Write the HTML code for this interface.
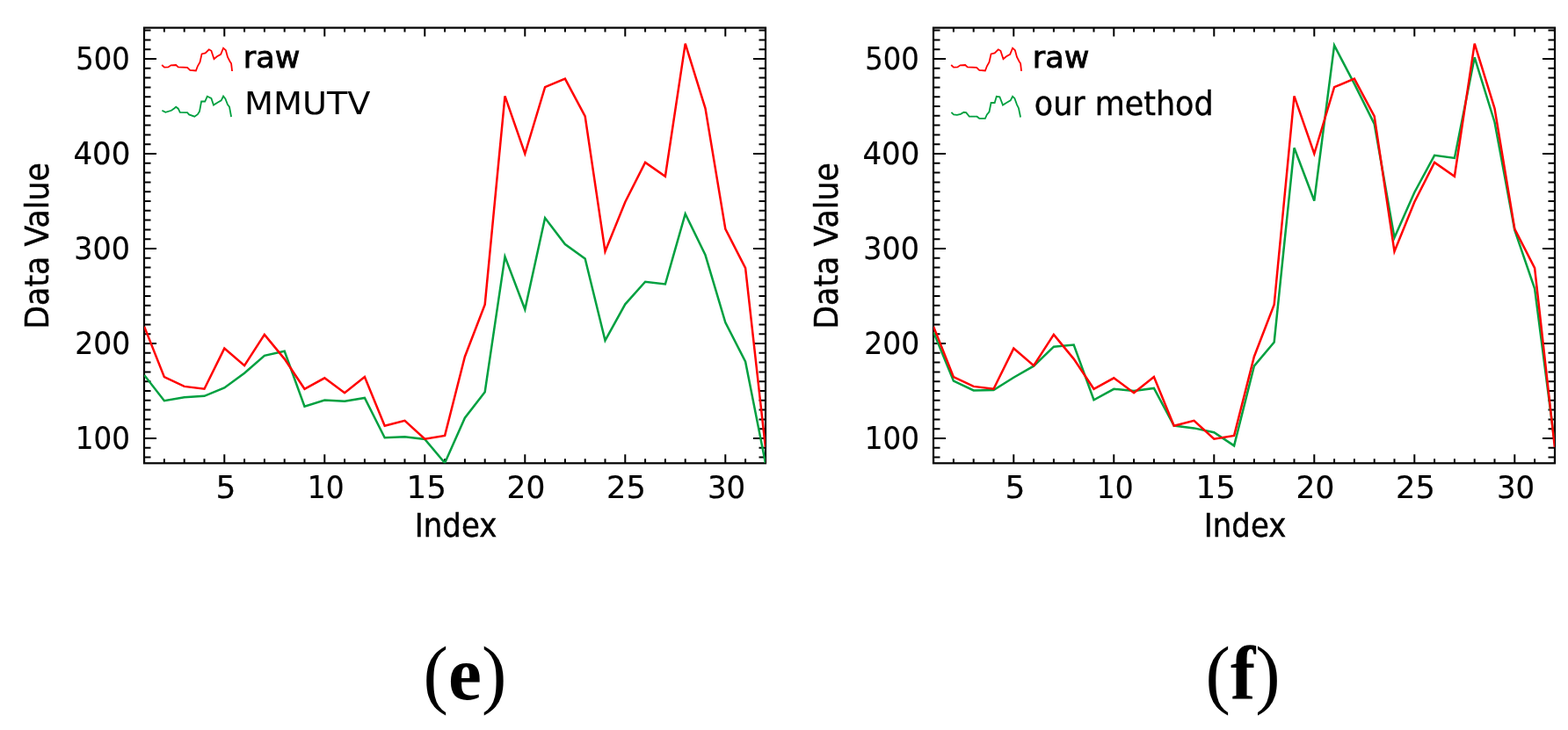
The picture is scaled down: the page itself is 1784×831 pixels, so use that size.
<!DOCTYPE html>
<html><head><meta charset="utf-8"><title>Figure</title>
<style>
html,body{margin:0;padding:0;background:#fff;}
body{width:1784px;height:831px;overflow:hidden;}
svg{display:block;filter:blur(0.4px);}
.t{font-family:"DejaVu Sans","Liberation Sans",sans-serif;fill:#000;stroke:#000;stroke-width:0.45px;}
.cap{font-family:"Liberation Serif",serif;fill:#000;}
</style></head><body>
<svg width="1784" height="831" viewBox="0 0 1784 831">
<rect width="1784" height="831" fill="#fff"/>
<clipPath id="ce"><rect x="164.0" y="31.6" width="707.0" height="495.69999999999993"/></clipPath>
<path d="M164.1 527.3v-5M164.1 31.6v5M186.9 527.3v-5M186.9 31.6v5M209.7 527.3v-5M209.7 31.6v5M232.5 527.3v-5M232.5 31.6v5M255.3 527.3v-10M255.3 31.6v10M278.1 527.3v-5M278.1 31.6v5M300.9 527.3v-5M300.9 31.6v5M323.7 527.3v-5M323.7 31.6v5M346.5 527.3v-5M346.5 31.6v5M369.3 527.3v-10M369.3 31.6v10M392.1 527.3v-5M392.1 31.6v5M414.9 527.3v-5M414.9 31.6v5M437.7 527.3v-5M437.7 31.6v5M460.5 527.3v-5M460.5 31.6v5M483.3 527.3v-10M483.3 31.6v10M506.1 527.3v-5M506.1 31.6v5M528.9 527.3v-5M528.9 31.6v5M551.7 527.3v-5M551.7 31.6v5M574.5 527.3v-5M574.5 31.6v5M597.3 527.3v-10M597.3 31.6v10M620.1 527.3v-5M620.1 31.6v5M642.9 527.3v-5M642.9 31.6v5M665.7 527.3v-5M665.7 31.6v5M688.5 527.3v-5M688.5 31.6v5M711.3 527.3v-10M711.3 31.6v10M734.1 527.3v-5M734.1 31.6v5M756.9 527.3v-5M756.9 31.6v5M779.7 527.3v-5M779.7 31.6v5M802.5 527.3v-5M802.5 31.6v5M825.3 527.3v-10M825.3 31.6v10M848.1 527.3v-5M848.1 31.6v5M870.9 527.3v-5M870.9 31.6v5M164.0 520.6h7.5M871.0 520.6h-7.5M164.0 509.8h7.5M871.0 509.8h-7.5M164.0 499.0h14M871.0 499.0h-14M164.0 488.2h7.5M871.0 488.2h-7.5M164.0 477.4h7.5M871.0 477.4h-7.5M164.0 466.6h7.5M871.0 466.6h-7.5M164.0 455.8h7.5M871.0 455.8h-7.5M164.0 445.0h7.5M871.0 445.0h-7.5M164.0 434.2h7.5M871.0 434.2h-7.5M164.0 423.4h7.5M871.0 423.4h-7.5M164.0 412.6h7.5M871.0 412.6h-7.5M164.0 401.8h7.5M871.0 401.8h-7.5M164.0 391.0h14M871.0 391.0h-14M164.0 380.2h7.5M871.0 380.2h-7.5M164.0 369.4h7.5M871.0 369.4h-7.5M164.0 358.6h7.5M871.0 358.6h-7.5M164.0 347.8h7.5M871.0 347.8h-7.5M164.0 337.0h7.5M871.0 337.0h-7.5M164.0 326.2h7.5M871.0 326.2h-7.5M164.0 315.4h7.5M871.0 315.4h-7.5M164.0 304.6h7.5M871.0 304.6h-7.5M164.0 293.8h7.5M871.0 293.8h-7.5M164.0 283.0h14M871.0 283.0h-14M164.0 272.2h7.5M871.0 272.2h-7.5M164.0 261.4h7.5M871.0 261.4h-7.5M164.0 250.6h7.5M871.0 250.6h-7.5M164.0 239.8h7.5M871.0 239.8h-7.5M164.0 229.0h7.5M871.0 229.0h-7.5M164.0 218.2h7.5M871.0 218.2h-7.5M164.0 207.4h7.5M871.0 207.4h-7.5M164.0 196.6h7.5M871.0 196.6h-7.5M164.0 185.8h7.5M871.0 185.8h-7.5M164.0 175.0h14M871.0 175.0h-14M164.0 164.2h7.5M871.0 164.2h-7.5M164.0 153.4h7.5M871.0 153.4h-7.5M164.0 142.6h7.5M871.0 142.6h-7.5M164.0 131.8h7.5M871.0 131.8h-7.5M164.0 121.0h7.5M871.0 121.0h-7.5M164.0 110.2h7.5M871.0 110.2h-7.5M164.0 99.4h7.5M871.0 99.4h-7.5M164.0 88.6h7.5M871.0 88.6h-7.5M164.0 77.8h7.5M871.0 77.8h-7.5M164.0 67.0h14M871.0 67.0h-14M164.0 56.2h7.5M871.0 56.2h-7.5M164.0 45.4h7.5M871.0 45.4h-7.5M164.0 34.6h7.5M871.0 34.6h-7.5" stroke="#000" stroke-width="2.0" fill="none"/>
<rect x="164.0" y="31.6" width="707.0" height="495.69999999999993" fill="none" stroke="#000" stroke-width="2.2"/>
<g clip-path="url(#ce)" fill="none" stroke-width="2.5" stroke-linejoin="miter" stroke-miterlimit="4">
<polyline stroke="#00a040" points="164.1,426.9 186.9,456.2 209.7,452.3 232.5,450.8 255.3,441.4 278.1,424.8 300.9,404.9 323.7,399.8 346.5,462.6 369.3,455.6 392.1,456.7 414.9,452.9 437.7,498.2 460.5,497.3 483.3,499.9 506.1,527.0 528.9,475.7 551.7,446.2 574.5,292.1 597.3,352.3 620.1,248.1 642.9,278.1 665.7,294.5 688.5,387.6 711.3,346.3 734.1,320.7 756.9,323.5 779.7,243.4 802.5,290.3 825.3,367.0 848.1,411.7 870.9,527.0"/>
<polyline stroke="#ff0000" points="164.1,371.7 186.9,429.1 209.7,439.9 232.5,442.7 255.3,396.6 278.1,416.1 300.9,380.9 323.7,408.6 346.5,442.8 369.3,430.3 392.1,447.2 414.9,429.1 437.7,484.8 460.5,478.9 483.3,499.7 506.1,495.9 528.9,406.0 551.7,346.7 574.5,109.3 597.3,175.0 620.1,99.2 642.9,89.6 665.7,132.5 688.5,286.3 711.3,230.0 734.1,184.9 756.9,200.8 779.7,49.6 802.5,123.4 825.3,260.5 848.1,305.2 870.9,509.0"/>
</g>
<polyline fill="none" stroke="#ff0000" stroke-width="1.8" points="184.2,74.0 187.0,76.6 191.4,76.4 194.5,74.3 200.2,74.0 202.8,76.4 213.1,76.9 216.2,80.0 222.9,80.5 224.9,75.3 227.5,70.7 229.6,61.4 233.7,60.4 237.8,56.3 240.4,57.8 243.5,67.1 246.6,64.5 251.2,61.9 254.1,54.7 256.9,57.3 259.0,65.0 261.5,69.7 263.1,72.3 264.1,81.0"/>
<polyline fill="none" stroke="#00a040" stroke-width="1.8" points="184.4,125.8 188.3,127.8 195.0,125.8 198.1,123.5 200.2,121.7 202.8,123.7 204.8,127.8 213.1,128.1 215.1,130.4 221.3,132.7 224.9,130.2 227.0,126.8 229.1,115.5 233.2,115.5 235.8,109.8 240.4,111.9 243.0,119.6 247.1,117.0 251.7,114.4 254.1,109.5 256.4,112.4 259.0,119.1 261.0,121.7 263.1,133.0"/>
<clipPath id="cf"><rect x="1062.0" y="31.6" width="707.0" height="495.69999999999993"/></clipPath>
<path d="M1062.1 527.3v-5M1062.1 31.6v5M1084.9 527.3v-5M1084.9 31.6v5M1107.7 527.3v-5M1107.7 31.6v5M1130.5 527.3v-5M1130.5 31.6v5M1153.3 527.3v-10M1153.3 31.6v10M1176.1 527.3v-5M1176.1 31.6v5M1198.9 527.3v-5M1198.9 31.6v5M1221.7 527.3v-5M1221.7 31.6v5M1244.5 527.3v-5M1244.5 31.6v5M1267.3 527.3v-10M1267.3 31.6v10M1290.1 527.3v-5M1290.1 31.6v5M1312.9 527.3v-5M1312.9 31.6v5M1335.7 527.3v-5M1335.7 31.6v5M1358.5 527.3v-5M1358.5 31.6v5M1381.3 527.3v-10M1381.3 31.6v10M1404.1 527.3v-5M1404.1 31.6v5M1426.9 527.3v-5M1426.9 31.6v5M1449.7 527.3v-5M1449.7 31.6v5M1472.5 527.3v-5M1472.5 31.6v5M1495.3 527.3v-10M1495.3 31.6v10M1518.1 527.3v-5M1518.1 31.6v5M1540.9 527.3v-5M1540.9 31.6v5M1563.7 527.3v-5M1563.7 31.6v5M1586.5 527.3v-5M1586.5 31.6v5M1609.3 527.3v-10M1609.3 31.6v10M1632.1 527.3v-5M1632.1 31.6v5M1654.9 527.3v-5M1654.9 31.6v5M1677.7 527.3v-5M1677.7 31.6v5M1700.5 527.3v-5M1700.5 31.6v5M1723.3 527.3v-10M1723.3 31.6v10M1746.1 527.3v-5M1746.1 31.6v5M1768.9 527.3v-5M1768.9 31.6v5M1062.0 520.6h7.5M1769.0 520.6h-7.5M1062.0 509.8h7.5M1769.0 509.8h-7.5M1062.0 499.0h14M1769.0 499.0h-14M1062.0 488.2h7.5M1769.0 488.2h-7.5M1062.0 477.4h7.5M1769.0 477.4h-7.5M1062.0 466.6h7.5M1769.0 466.6h-7.5M1062.0 455.8h7.5M1769.0 455.8h-7.5M1062.0 445.0h7.5M1769.0 445.0h-7.5M1062.0 434.2h7.5M1769.0 434.2h-7.5M1062.0 423.4h7.5M1769.0 423.4h-7.5M1062.0 412.6h7.5M1769.0 412.6h-7.5M1062.0 401.8h7.5M1769.0 401.8h-7.5M1062.0 391.0h14M1769.0 391.0h-14M1062.0 380.2h7.5M1769.0 380.2h-7.5M1062.0 369.4h7.5M1769.0 369.4h-7.5M1062.0 358.6h7.5M1769.0 358.6h-7.5M1062.0 347.8h7.5M1769.0 347.8h-7.5M1062.0 337.0h7.5M1769.0 337.0h-7.5M1062.0 326.2h7.5M1769.0 326.2h-7.5M1062.0 315.4h7.5M1769.0 315.4h-7.5M1062.0 304.6h7.5M1769.0 304.6h-7.5M1062.0 293.8h7.5M1769.0 293.8h-7.5M1062.0 283.0h14M1769.0 283.0h-14M1062.0 272.2h7.5M1769.0 272.2h-7.5M1062.0 261.4h7.5M1769.0 261.4h-7.5M1062.0 250.6h7.5M1769.0 250.6h-7.5M1062.0 239.8h7.5M1769.0 239.8h-7.5M1062.0 229.0h7.5M1769.0 229.0h-7.5M1062.0 218.2h7.5M1769.0 218.2h-7.5M1062.0 207.4h7.5M1769.0 207.4h-7.5M1062.0 196.6h7.5M1769.0 196.6h-7.5M1062.0 185.8h7.5M1769.0 185.8h-7.5M1062.0 175.0h14M1769.0 175.0h-14M1062.0 164.2h7.5M1769.0 164.2h-7.5M1062.0 153.4h7.5M1769.0 153.4h-7.5M1062.0 142.6h7.5M1769.0 142.6h-7.5M1062.0 131.8h7.5M1769.0 131.8h-7.5M1062.0 121.0h7.5M1769.0 121.0h-7.5M1062.0 110.2h7.5M1769.0 110.2h-7.5M1062.0 99.4h7.5M1769.0 99.4h-7.5M1062.0 88.6h7.5M1769.0 88.6h-7.5M1062.0 77.8h7.5M1769.0 77.8h-7.5M1062.0 67.0h14M1769.0 67.0h-14M1062.0 56.2h7.5M1769.0 56.2h-7.5M1062.0 45.4h7.5M1769.0 45.4h-7.5M1062.0 34.6h7.5M1769.0 34.6h-7.5" stroke="#000" stroke-width="2.0" fill="none"/>
<rect x="1062.0" y="31.6" width="707.0" height="495.69999999999993" fill="none" stroke="#000" stroke-width="2.2"/>
<g clip-path="url(#cf)" fill="none" stroke-width="2.5" stroke-linejoin="miter" stroke-miterlimit="4">
<polyline stroke="#00a040" points="1062.1,378.0 1084.9,433.6 1107.7,444.5 1130.5,444.0 1153.3,429.7 1176.1,416.7 1198.9,394.7 1221.7,392.5 1244.5,455.3 1267.3,442.8 1290.1,444.9 1312.9,441.9 1335.7,484.6 1358.5,487.4 1381.3,492.2 1404.1,507.4 1426.9,416.6 1449.7,389.5 1472.5,168.3 1495.3,228.5 1518.1,51.7 1540.9,95.4 1563.7,141.2 1586.5,270.5 1609.3,219.0 1632.1,176.8 1654.9,179.9 1677.7,65.3 1700.5,139.0 1723.3,262.0 1746.1,328.5 1768.9,505.0"/>
<polyline stroke="#ff0000" points="1062.1,371.7 1084.9,429.1 1107.7,439.9 1130.5,442.7 1153.3,396.6 1176.1,416.1 1198.9,380.9 1221.7,408.6 1244.5,442.8 1267.3,430.3 1290.1,447.2 1312.9,429.1 1335.7,484.8 1358.5,478.9 1381.3,499.7 1404.1,495.9 1426.9,406.0 1449.7,346.7 1472.5,109.3 1495.3,175.0 1518.1,99.2 1540.9,89.6 1563.7,132.5 1586.5,286.3 1609.3,230.0 1632.1,184.9 1654.9,200.8 1677.7,49.6 1700.5,123.4 1723.3,260.5 1746.1,305.2 1768.9,509.0"/>
</g>
<polyline fill="none" stroke="#ff0000" stroke-width="1.8" points="1082.2,74.0 1085.0,76.6 1089.4,76.4 1092.5,74.3 1098.2,74.0 1100.8,76.4 1111.1,76.9 1114.2,80.0 1120.9,80.5 1122.9,75.3 1125.5,70.7 1127.6,61.4 1131.7,60.4 1135.8,56.3 1138.4,57.8 1141.5,67.1 1144.6,64.5 1149.2,61.9 1152.1,54.7 1154.9,57.3 1157.0,65.0 1159.5,69.7 1161.1,72.3 1162.1,81.0"/>
<polyline fill="none" stroke="#00a040" stroke-width="1.8" points="1082.4,127.8 1085.0,130.4 1088.9,130.9 1093.0,129.9 1096.6,127.8 1099.2,128.1 1102.8,132.5 1111.6,132.7 1114.2,134.8 1120.9,134.8 1122.9,130.4 1125.5,127.3 1127.6,117.0 1131.7,117.0 1133.8,109.8 1137.4,110.3 1141.0,119.6 1145.1,117.0 1149.7,114.4 1152.1,109.8 1154.4,111.9 1157.0,119.1 1159.0,123.2 1161.1,133.5"/>
<text class="t" font-size="35.60" x="86.20" y="79.10" textLength="61.57" lengthAdjust="spacingAndGlyphs" style="stroke-width:0.2px">500</text>
<text class="t" font-size="35.60" x="83.40" y="187.10" textLength="64.92" lengthAdjust="spacingAndGlyphs" style="stroke-width:0.2px">400</text>
<text class="t" font-size="35.60" x="84.20" y="295.10" textLength="63.70" lengthAdjust="spacingAndGlyphs" style="stroke-width:0.2px">300</text>
<text class="t" font-size="35.60" x="85.20" y="403.10" textLength="63.07" lengthAdjust="spacingAndGlyphs" style="stroke-width:0.2px">200</text>
<text class="t" font-size="35.60" x="85.80" y="511.10" textLength="62.23" lengthAdjust="spacingAndGlyphs" style="stroke-width:0.2px">100</text>
<text class="t" font-size="35.60" x="245.60" y="566.60" textLength="22.93" lengthAdjust="spacingAndGlyphs" style="stroke-width:0.2px">5</text>
<text class="t" font-size="35.60" x="349.80" y="566.60" textLength="41.78" lengthAdjust="spacingAndGlyphs" style="stroke-width:0.2px">10</text>
<text class="t" font-size="35.60" x="462.60" y="566.60" textLength="45.44" lengthAdjust="spacingAndGlyphs" style="stroke-width:0.2px">15</text>
<text class="t" font-size="35.60" x="576.60" y="566.60" textLength="43.74" lengthAdjust="spacingAndGlyphs" style="stroke-width:0.2px">20</text>
<text class="t" font-size="35.60" x="690.00" y="566.60" textLength="44.84" lengthAdjust="spacingAndGlyphs" style="stroke-width:0.2px">25</text>
<text class="t" font-size="35.60" x="805.00" y="566.60" textLength="43.19" lengthAdjust="spacingAndGlyphs" style="stroke-width:0.2px">30</text>
<text class="t" font-size="37.30" x="471.80" y="611.00" textLength="93.56" lengthAdjust="spacingAndGlyphs">Index</text>
<text class="t" font-size="37.30" transform="translate(54.60 374.70) rotate(-90)" textLength="189.58" lengthAdjust="spacingAndGlyphs">Data Value</text>
<text class="t" font-size="34.00" x="276.80" y="77.00" textLength="64.54" lengthAdjust="spacingAndGlyphs" style="stroke-width:0.8px">raw</text>
<text class="t" font-size="35.60" x="984.20" y="79.10" textLength="61.57" lengthAdjust="spacingAndGlyphs" style="stroke-width:0.2px">500</text>
<text class="t" font-size="35.60" x="981.40" y="187.10" textLength="64.92" lengthAdjust="spacingAndGlyphs" style="stroke-width:0.2px">400</text>
<text class="t" font-size="35.60" x="982.20" y="295.10" textLength="63.70" lengthAdjust="spacingAndGlyphs" style="stroke-width:0.2px">300</text>
<text class="t" font-size="35.60" x="983.20" y="403.10" textLength="63.07" lengthAdjust="spacingAndGlyphs" style="stroke-width:0.2px">200</text>
<text class="t" font-size="35.60" x="983.80" y="511.10" textLength="62.23" lengthAdjust="spacingAndGlyphs" style="stroke-width:0.2px">100</text>
<text class="t" font-size="35.60" x="1143.60" y="566.60" textLength="22.93" lengthAdjust="spacingAndGlyphs" style="stroke-width:0.2px">5</text>
<text class="t" font-size="35.60" x="1247.80" y="566.60" textLength="41.78" lengthAdjust="spacingAndGlyphs" style="stroke-width:0.2px">10</text>
<text class="t" font-size="35.60" x="1360.60" y="566.60" textLength="45.44" lengthAdjust="spacingAndGlyphs" style="stroke-width:0.2px">15</text>
<text class="t" font-size="35.60" x="1474.60" y="566.60" textLength="43.74" lengthAdjust="spacingAndGlyphs" style="stroke-width:0.2px">20</text>
<text class="t" font-size="35.60" x="1588.00" y="566.60" textLength="44.84" lengthAdjust="spacingAndGlyphs" style="stroke-width:0.2px">25</text>
<text class="t" font-size="35.60" x="1703.00" y="566.60" textLength="43.19" lengthAdjust="spacingAndGlyphs" style="stroke-width:0.2px">30</text>
<text class="t" font-size="37.30" x="1369.80" y="611.00" textLength="93.56" lengthAdjust="spacingAndGlyphs">Index</text>
<text class="t" font-size="37.30" transform="translate(952.60 374.70) rotate(-90)" textLength="189.58" lengthAdjust="spacingAndGlyphs">Data Value</text>
<text class="t" font-size="34.00" x="1174.80" y="77.00" textLength="64.54" lengthAdjust="spacingAndGlyphs" style="stroke-width:0.8px">raw</text>
<text class="t" font-size="36.00" x="278.00" y="130.35" textLength="143.50" lengthAdjust="spacingAndGlyphs" style="stroke-width:0">MMUTV</text>
<text class="t" font-size="37.00" x="1176.80" y="130.65" textLength="203.78" lengthAdjust="spacingAndGlyphs">our method</text>
<text class="cap" font-size="86.00" x="481.60" y="796.15" textLength="94.70" lengthAdjust="spacingAndGlyphs">(<tspan font-weight="bold">e</tspan>)</text>
<text class="cap" font-size="86.00" x="1371.60" y="796.45" textLength="85.06" lengthAdjust="spacingAndGlyphs">(<tspan font-weight="bold">f</tspan>)</text>
</svg>
</body></html>
